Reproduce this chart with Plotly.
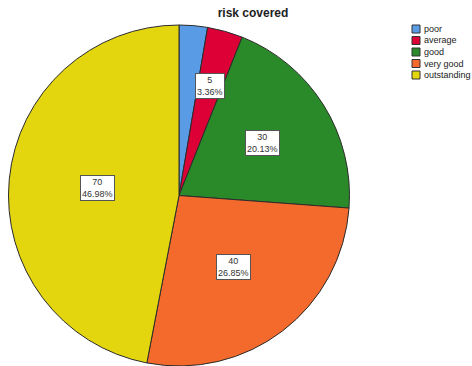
import math
import plotly.graph_objects as go

# Survey responses: "risk covered"
categories = ["poor", "average", "good", "very good", "outstanding"]
counts = [4, 5, 30, 40, 70]
colors = ["#5a9be6", "#dc0037", "#2a8a2a", "#f46a2c", "#e3d60e"]

# which slices get a value box, and how far out (fraction of radius) it sits
show_label = [False, True, True, True, True]
label_r = [0.6, 0.67, 0.58, 0.53, 0.48]

W, H = 472, 366
# pie placement in pixels
cx, cy, R = 179.0, 195.5, 170.5

fig = go.Figure()
fig.add_trace(go.Pie(
    labels=categories,
    values=counts,
    sort=False,
    direction="clockwise",
    rotation=0,
    marker=dict(colors=colors, line=dict(color="#2b2b2b", width=1)),
    textinfo="none",
    hoverinfo="label+value+percent",
    showlegend=False,
    domain=dict(x=[(cx - R) / W, (cx + R) / W],
                y=[(H - cy - R) / H, (H - cy + R) / H]),
))

annotations = []
total = sum(counts)
cum = 0
for cat, v, show, rf in zip(categories, counts, show_label, label_r):
    mid = (cum + v / 2) / total * 2 * math.pi
    cum += v
    if not show:
        continue
    px = cx + rf * R * math.sin(mid)
    py = cy - rf * R * math.cos(mid)
    pct = v / total * 100
    annotations.append(dict(
        x=px / W, y=(H - py) / H, xref="paper", yref="paper",
        xanchor="center", yanchor="middle",
        text=f"{v}<br>{pct:.2f}%", showarrow=False,
        font=dict(family="Liberation Sans, Arial", size=9, color="#333333"),
        bgcolor="white", bordercolor="#555555", borderwidth=1, borderpad=1,
        align="center",
    ))

# legend drawn as swatches + text
shapes = []
leg_x0, leg_y0, leg_step, sw = 412, 29, 11.5, 8
for i, (cat, col) in enumerate(zip(categories, colors)):
    yc = leg_y0 + i * leg_step
    shapes.append(dict(
        type="rect", xref="paper", yref="paper",
        x0=leg_x0 / W, x1=(leg_x0 + sw) / W,
        y0=(H - (yc + sw / 2)) / H, y1=(H - (yc - sw / 2)) / H,
        fillcolor=col, line=dict(color="#333333", width=1),
    ))
    annotations.append(dict(
        x=(leg_x0 + sw + 2) / W, y=(H - yc) / H, xref="paper", yref="paper",
        xanchor="left", yanchor="middle", text=cat, showarrow=False,
        font=dict(family="Liberation Sans, Arial", size=9, color="#222222"),
    ))

fig.update_layout(
    width=W, height=H,
    margin=dict(l=0, r=0, t=0, b=0),
    paper_bgcolor="white",
    plot_bgcolor="white",
    title=dict(
        text="<b>risk covered</b>", x=253 / W, xanchor="center",
        y=(H - 13) / H, yanchor="middle",
        font=dict(family="Liberation Sans, Arial", size=12, color="#222222"),
    ),
    annotations=annotations,
    shapes=shapes,
)

fig.write_html("out.html")
